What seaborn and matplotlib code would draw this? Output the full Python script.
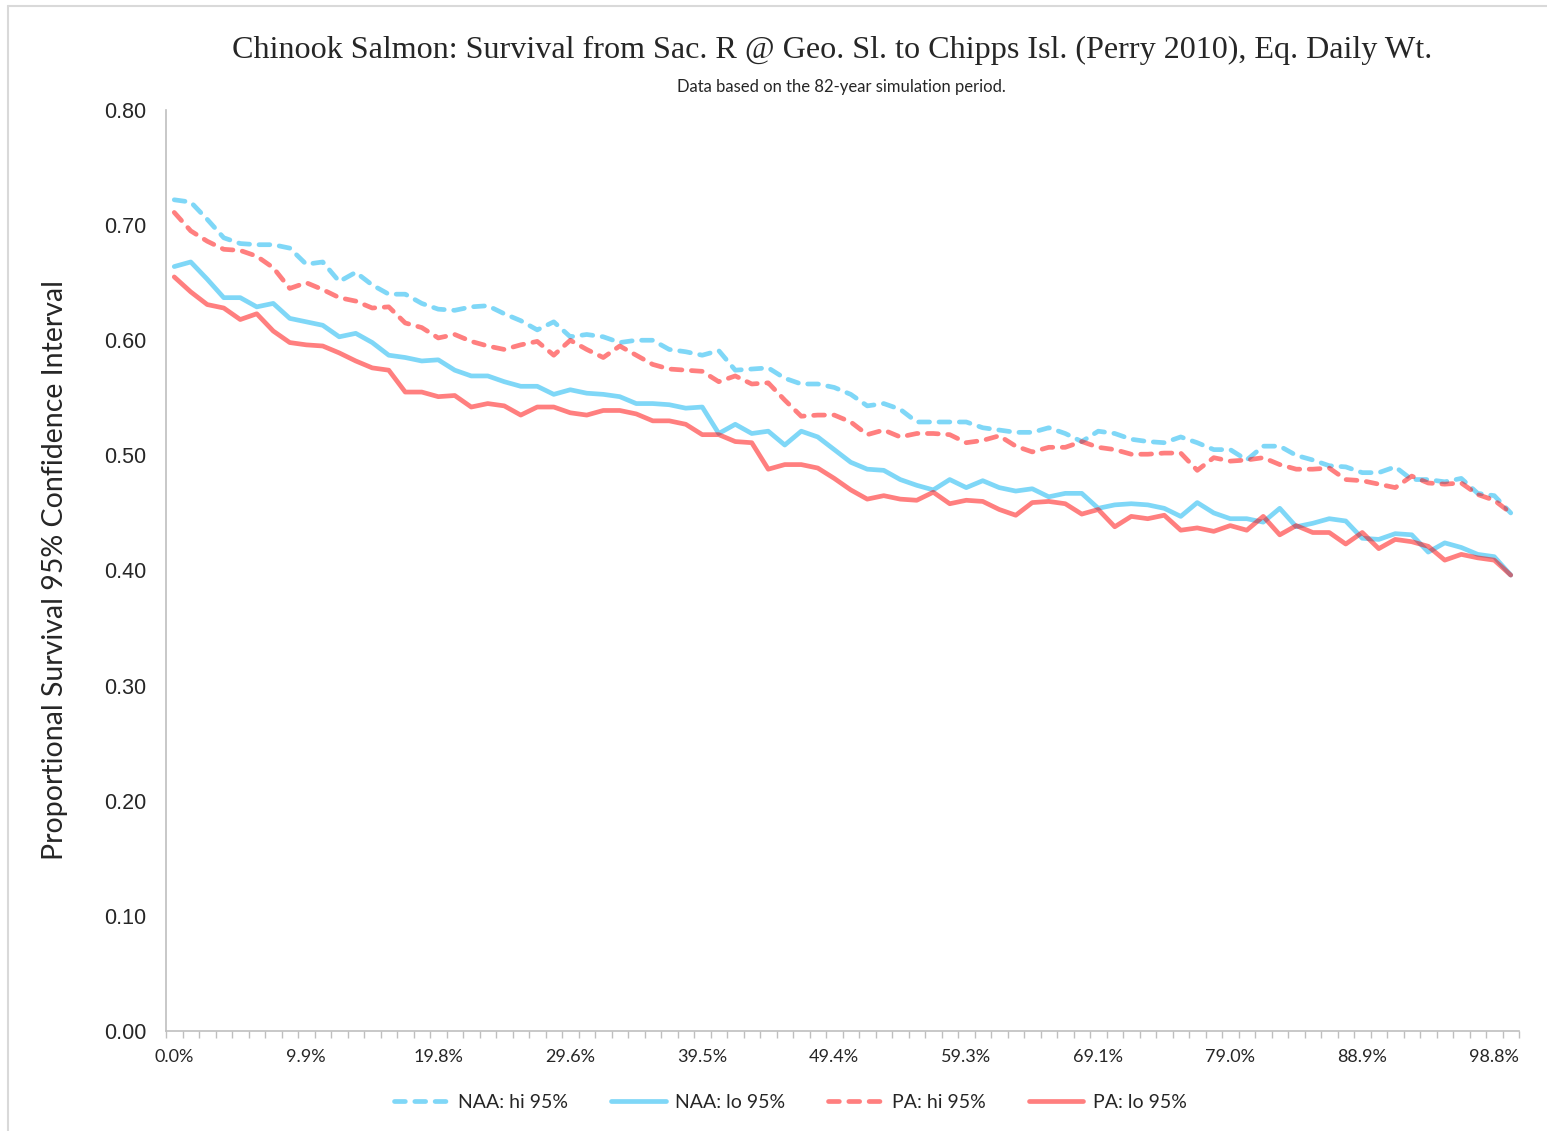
import numpy as np
import pandas as pd
import matplotlib
matplotlib.use("Agg")
import matplotlib.pyplot as plt
import seaborn as sns
from matplotlib.lines import Line2D

# valores (82 anos, ordenados por probabilidade de excedencia)
naa_hi = [0.722, 0.720, 0.705, 0.689, 0.684, 0.683, 0.683, 0.680, 0.666, 0.668,
          0.651, 0.659, 0.648, 0.640, 0.640, 0.632, 0.627, 0.626, 0.629, 0.630,
          0.623, 0.617, 0.609, 0.616, 0.603, 0.605, 0.603, 0.598, 0.600, 0.600,
          0.592, 0.590, 0.587, 0.591, 0.574, 0.575, 0.576, 0.567, 0.562, 0.562,
          0.559, 0.553, 0.543, 0.545, 0.540, 0.529, 0.529, 0.529, 0.529, 0.524,
          0.522, 0.520, 0.520, 0.524, 0.519, 0.512, 0.521, 0.519, 0.514, 0.512,
          0.511, 0.516, 0.511, 0.505, 0.505, 0.496, 0.508, 0.508, 0.500, 0.496,
          0.491, 0.490, 0.485, 0.485, 0.490, 0.479, 0.479, 0.477, 0.480, 0.467,
          0.465, 0.450]
naa_lo = [0.664, 0.668, 0.653, 0.637, 0.637, 0.629, 0.632, 0.619, 0.616, 0.613,
          0.603, 0.606, 0.598, 0.587, 0.585, 0.582, 0.583, 0.574, 0.569, 0.569,
          0.564, 0.560, 0.560, 0.553, 0.557, 0.554, 0.553, 0.551, 0.545, 0.545,
          0.544, 0.541, 0.542, 0.519, 0.527, 0.519, 0.521, 0.509, 0.521, 0.516,
          0.505, 0.494, 0.488, 0.487, 0.479, 0.474, 0.470, 0.479, 0.472, 0.478,
          0.472, 0.469, 0.471, 0.464, 0.467, 0.467, 0.454, 0.457, 0.458, 0.457,
          0.454, 0.447, 0.459, 0.450, 0.445, 0.445, 0.442, 0.454, 0.438, 0.441,
          0.445, 0.443, 0.428, 0.427, 0.432, 0.431, 0.416, 0.424, 0.420, 0.414,
          0.412, 0.396]
pa_hi = [0.711, 0.695, 0.686, 0.679, 0.678, 0.673, 0.663, 0.645, 0.650, 0.644,
         0.637, 0.634, 0.628, 0.629, 0.615, 0.611, 0.602, 0.605, 0.599, 0.595,
         0.592, 0.596, 0.599, 0.587, 0.600, 0.592, 0.585, 0.595, 0.587, 0.579,
         0.575, 0.574, 0.573, 0.564, 0.569, 0.562, 0.563, 0.548, 0.534, 0.535,
         0.535, 0.529, 0.518, 0.522, 0.516, 0.519, 0.519, 0.518, 0.511, 0.513,
         0.517, 0.508, 0.503, 0.507, 0.507, 0.512, 0.507, 0.505, 0.501, 0.501,
         0.502, 0.502, 0.487, 0.498, 0.495, 0.496, 0.498, 0.492, 0.488, 0.488,
         0.489, 0.479, 0.478, 0.475, 0.472, 0.482, 0.476, 0.475, 0.476, 0.466,
         0.461, 0.450]
pa_lo = [0.655, 0.642, 0.631, 0.628, 0.618, 0.623, 0.608, 0.598, 0.596, 0.595,
         0.589, 0.582, 0.576, 0.574, 0.555, 0.555, 0.551, 0.552, 0.542, 0.545,
         0.543, 0.535, 0.542, 0.542, 0.537, 0.535, 0.539, 0.539, 0.536, 0.530,
         0.530, 0.527, 0.518, 0.518, 0.512, 0.511, 0.488, 0.492, 0.492, 0.489,
         0.480, 0.470, 0.462, 0.465, 0.462, 0.461, 0.468, 0.458, 0.461, 0.460,
         0.453, 0.448, 0.459, 0.460, 0.458, 0.449, 0.453, 0.438, 0.447, 0.445,
         0.448, 0.435, 0.437, 0.434, 0.439, 0.435, 0.447, 0.431, 0.439, 0.433,
         0.433, 0.423, 0.433, 0.419, 0.427, 0.425, 0.421, 0.409, 0.414, 0.411,
         0.409, 0.396]

x_labels = ["0.0%", "9.9%", "19.8%", "29.6%", "39.5%", "49.4%",
            "59.3%", "69.1%", "79.0%", "88.9%", "98.8%"]
y_ticks = [0.0, 0.1, 0.2, 0.3, 0.4, 0.5, 0.6, 0.7, 0.8]

series = {"NAA: hi 95%": naa_hi, "NAA: lo 95%": naa_lo,
          "PA: hi 95%": pa_hi, "PA: lo 95%": pa_lo}
cores = {"NAA: hi 95%": "#00B0F0", "NAA: lo 95%": "#00B0F0",
         "PA: hi 95%": "#FF0000", "PA: lo 95%": "#FF0000"}

df = pd.DataFrame(series)
df["ano"] = np.arange(len(naa_hi))

sns.set_style("white")
fonte = "Lato"

fig = plt.figure(figsize=(15.47, 11.31), dpi=100)
ax = fig.add_axes([166/1547, 1 - 1031/1131, 1353/1547, 921/1131])

for nome, valores in series.items():
    sns.lineplot(data=df, x="ano", y=nome, ax=ax, color=cores[nome], alpha=0.5,
                 linewidth=3.4, label=nome, legend=False)
for linha, nome in zip(ax.lines, series):
    linha.set_solid_capstyle("round")
    linha.set_solid_joinstyle("round")
    if "hi" in nome:
        linha.set_dashes((2.3, 2.0))
        linha.set_dash_capstyle("round")

ax.set_xlim(-0.5, len(naa_hi) - 0.5)
ax.set_ylim(0, 0.8)
ax.set_xticks(np.arange(0, len(naa_hi), 8))
ax.set_xticklabels(x_labels, fontsize=13, family=fonte)
ax.set_xticks(np.arange(-0.5, len(naa_hi), 1), minor=True)
ax.set_yticks(y_ticks)
ax.set_yticklabels([f"{v:.2f}" for v in y_ticks], fontsize=15.5, family="Liberation Sans")
ax.tick_params(axis="x", which="major", length=0, pad=13)
ax.tick_params(axis="x", which="minor", length=5, width=1, color="#BFBFBF",
               direction="out", bottom=True)
ax.tick_params(axis="y", length=0, pad=14)
ax.set_xlabel("")
ax.set_ylabel("Proportional Survival 95% Confidence Interval", fontsize=20.5, family=fonte)
ax.yaxis.set_label_coords(-0.0725, 0.5)

for lado in ["top", "right"]:
    ax.spines[lado].set_visible(False)
for lado in ["left", "bottom"]:
    ax.spines[lado].set_color("#BFBFBF")
    ax.spines[lado].set_linewidth(1.2)

fig.text(0.5378, 1 - 50/1131, "Chinook Salmon: Survival from Sac. R @ Geo. Sl. to Chipps Isl. (Perry 2010), Eq. Daily Wt.",
         ha="center", va="center", fontsize=23.1, family="Liberation Serif")
fig.text(0.5436, 1 - 87/1131, "Data based on the 82-year simulation period.",
         ha="center", va="center", fontsize=12, family=fonte)

handles, labels = ax.get_legend_handles_labels()
fig.legend(handles, labels, loc="center", bbox_to_anchor=(0.511, 1 - 1102/1131),
           ncol=4, frameon=False, prop={"family": fonte, "size": 14},
           handlelength=2.8, handletextpad=0.5, columnspacing=2.2)

# moldura cinza do grafico
fig.add_artist(Line2D([8/1547, 8/1547], [0, 1 - 6/1131], color="#D9D9D9", lw=1.5))
fig.add_artist(Line2D([8/1547, 1], [1 - 6/1131, 1 - 6/1131], color="#D9D9D9", lw=1.5))

fig.savefig("out.png", dpi=100)
